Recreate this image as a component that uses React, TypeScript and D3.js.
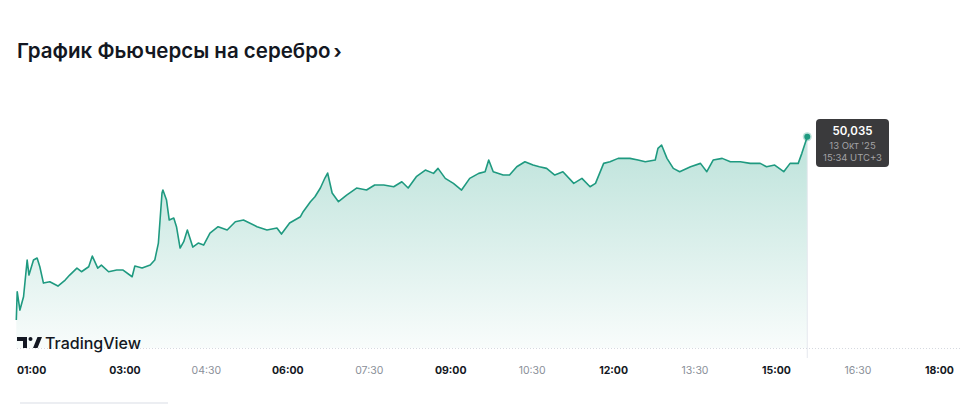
import React from "react";
import * as d3 from "d3";

const times: string[] = [
  "01:00","01:01","01:04","01:08","01:12","01:14","01:19","01:23","01:26","01:30",
  "01:37","01:46","01:54","01:59","02:07","02:12","02:20","02:24","02:30","02:34",
  "02:42","02:51","02:58","03:08","03:11","03:19","03:28","03:33","03:37","03:41",
  "03:42","03:46","03:49","03:54","03:57","04:01","04:05","04:09","04:15","04:21",
  "04:27","04:34","04:43","04:53","05:02","05:11","05:26","05:37","05:48","05:53",
  "06:02","06:14","06:17","06:25","06:30","06:36","06:41","06:44","06:49","06:56",
  "07:05","07:16","07:27","07:36","07:46","07:57","08:06","08:13","08:22","08:32",
  "08:41","08:46","08:54","09:03","09:12","09:21","09:31","09:38","09:42","09:47",
  "09:58","10:05","10:13","10:22","10:31","10:38","10:46","10:55","11:04","11:16",
  "11:25","11:34","11:40","11:49","11:56","12:05","12:18","12:27","12:35","12:46",
  "12:49","12:53","12:59","13:06","13:13","13:25","13:36","13:43","13:50","14:00",
  "14:09","14:20","14:31","14:42","14:49","14:58","15:08","15:15","15:24","15:28",
  "15:34",
];

const prices: number[] = [
  47.835,48.175,47.955,48.115,48.555,48.375,48.555,48.579,48.475,48.279,
  48.295,48.243,48.315,48.375,48.459,48.415,48.475,48.603,48.459,48.495,
  48.415,48.435,48.435,48.355,48.483,48.459,48.495,48.555,48.759,49.359,
  49.395,49.275,49.035,49.059,48.955,48.699,48.775,48.915,48.711,48.759,
  48.735,48.879,48.955,48.915,49.015,49.035,48.955,48.915,48.939,48.867,
  48.999,49.075,49.135,49.255,49.315,49.419,49.539,49.599,49.359,49.255,
  49.335,49.419,49.395,49.455,49.455,49.435,49.495,49.419,49.555,49.635,
  49.595,49.655,49.535,49.475,49.395,49.535,49.595,49.615,49.755,49.615,
  49.575,49.575,49.675,49.735,49.695,49.675,49.655,49.575,49.615,49.475,
  49.535,49.435,49.475,49.715,49.735,49.775,49.775,49.755,49.735,49.755,
  49.895,49.935,49.775,49.655,49.615,49.675,49.715,49.615,49.755,49.775,
  49.735,49.735,49.715,49.715,49.675,49.695,49.615,49.715,49.715,49.835,
  50.035,
];

const tickLabels: string[] = ["01:00","03:00","04:30","06:00","07:30","09:00","10:30","12:00","13:30","15:00","16:30","18:00"];
const majorTicks: string[] = ["01:00","03:00","06:00","09:00","12:00","15:00","18:00"];

const title = "График Фьючерсы на серебро";
const lastPriceLabel = "50,035";
const lastDateLabel = "13 Окт '25";
const lastTimeLabel = "15:34 UTC+3";

const toMin = (s: string) => {
  const [h, m] = s.split(":").map(Number);
  return h * 60 + m;
};

export default function App() {
  const W = 960, H = 404;
  const x = d3.scaleLinear().domain([toMin("01:00"), toMin("18:00")]).range([16.3, 939.4]);
  const y = d3.scaleLinear().domain([47.5, 50.035]).range([348, 136.7]);
  const data = times.map((t, i) => ({ t: toMin(t), v: prices[i] }));
  const line = d3.line<{ t: number; v: number }>().x(d => x(d.t)).y(d => y(d.v));
  const area = d3.area<{ t: number; v: number }>().x(d => x(d.t)).y0(y(47.5)).y1(d => y(d.v));
  const last = data[data.length - 1];
  const lx = x(last.t), ly = y(last.v);
  const font = "Inter, 'Noto Sans', sans-serif";
  const green = "#1f9a80";

  return (
    <svg width={W} height={H} style={{ position: "absolute", left: 0, top: 0, background: "#fff" }}>
      <defs>
        <linearGradient id="areaGrad" gradientUnits="userSpaceOnUse" x1="0" y1={y(50.035)} x2="0" y2={y(47.5)}>
          <stop offset="0%" stopColor="rgb(34,160,133)" stopOpacity={0.3} />
          <stop offset="100%" stopColor="rgb(34,160,133)" stopOpacity={0.03} />
        </linearGradient>
      </defs>

      <text x={17} y={58} fontFamily={font} fontSize={20.5} fontWeight={600} fill="#131722">
        {title}
        <tspan dx={3} fontSize={19} fontWeight={700}>›</tspan>
      </text>

      <path d={area(data) || ""} fill="url(#areaGrad)" />
      <line x1={lx} x2={lx} y1={ly} y2={358} stroke="#e6e8ee" strokeWidth={1} />
      <line x1={17} x2={960} y1={348.5} y2={348.5} stroke="#d6d9e0" strokeWidth={1} strokeDasharray="1 2" />
      <path d={line(data) || ""} fill="none" stroke={green} strokeWidth={1.6} strokeLinejoin="round" />
      <circle cx={lx} cy={ly} r={4.5} fill={green} opacity={0.3} />
      <circle cx={lx} cy={ly} r={3} fill={green} />

      <g>
        <path d="M17,337 h10 v11 h-4 v-7 h-6 z" fill="#131722" />
        <circle cx={30.5} cy={339} r={2} fill="#131722" />
        <path d="M33,348 l4.5,-11 h4.5 l-4.5,11 z" fill="#131722" />
        <text x={45} y={348.5} fontFamily={font} fontSize={16} fontWeight={500} fill="#131722">TradingView</text>
      </g>

      {tickLabels.map((lab, i) => {
        const major = majorTicks.includes(lab);
        const first = i === 0;
        return (
          <text key={lab} x={first ? 17 : x(toMin(lab))} y={374} textAnchor={first ? "start" : "middle"}
            fontFamily={font} fontSize={10.5} fontWeight={major ? 700 : 400}
            fill={major ? "#131722" : "#8a8f99"}>
            {lab}
          </text>
        );
      })}

      <g>
        <rect x={816} y={119} width={73} height={48} rx={4} fill="#3a3a3c" />
        <text x={852.5} y={134.5} textAnchor="middle" fontFamily={font} fontSize={11.5} fontWeight={600} fill="#ffffff">{lastPriceLabel}</text>
        <text x={852.5} y={149} textAnchor="middle" fontFamily={font} fontSize={9.5} fill="#a3a3a6">{lastDateLabel}</text>
        <text x={852.5} y={161} textAnchor="middle" fontFamily={font} fontSize={9.5} fill="#a3a3a6">{lastTimeLabel}</text>
      </g>

      <rect x={20} y={402} width={148} height={2} fill="#eceef2" />
    </svg>
  );
}
